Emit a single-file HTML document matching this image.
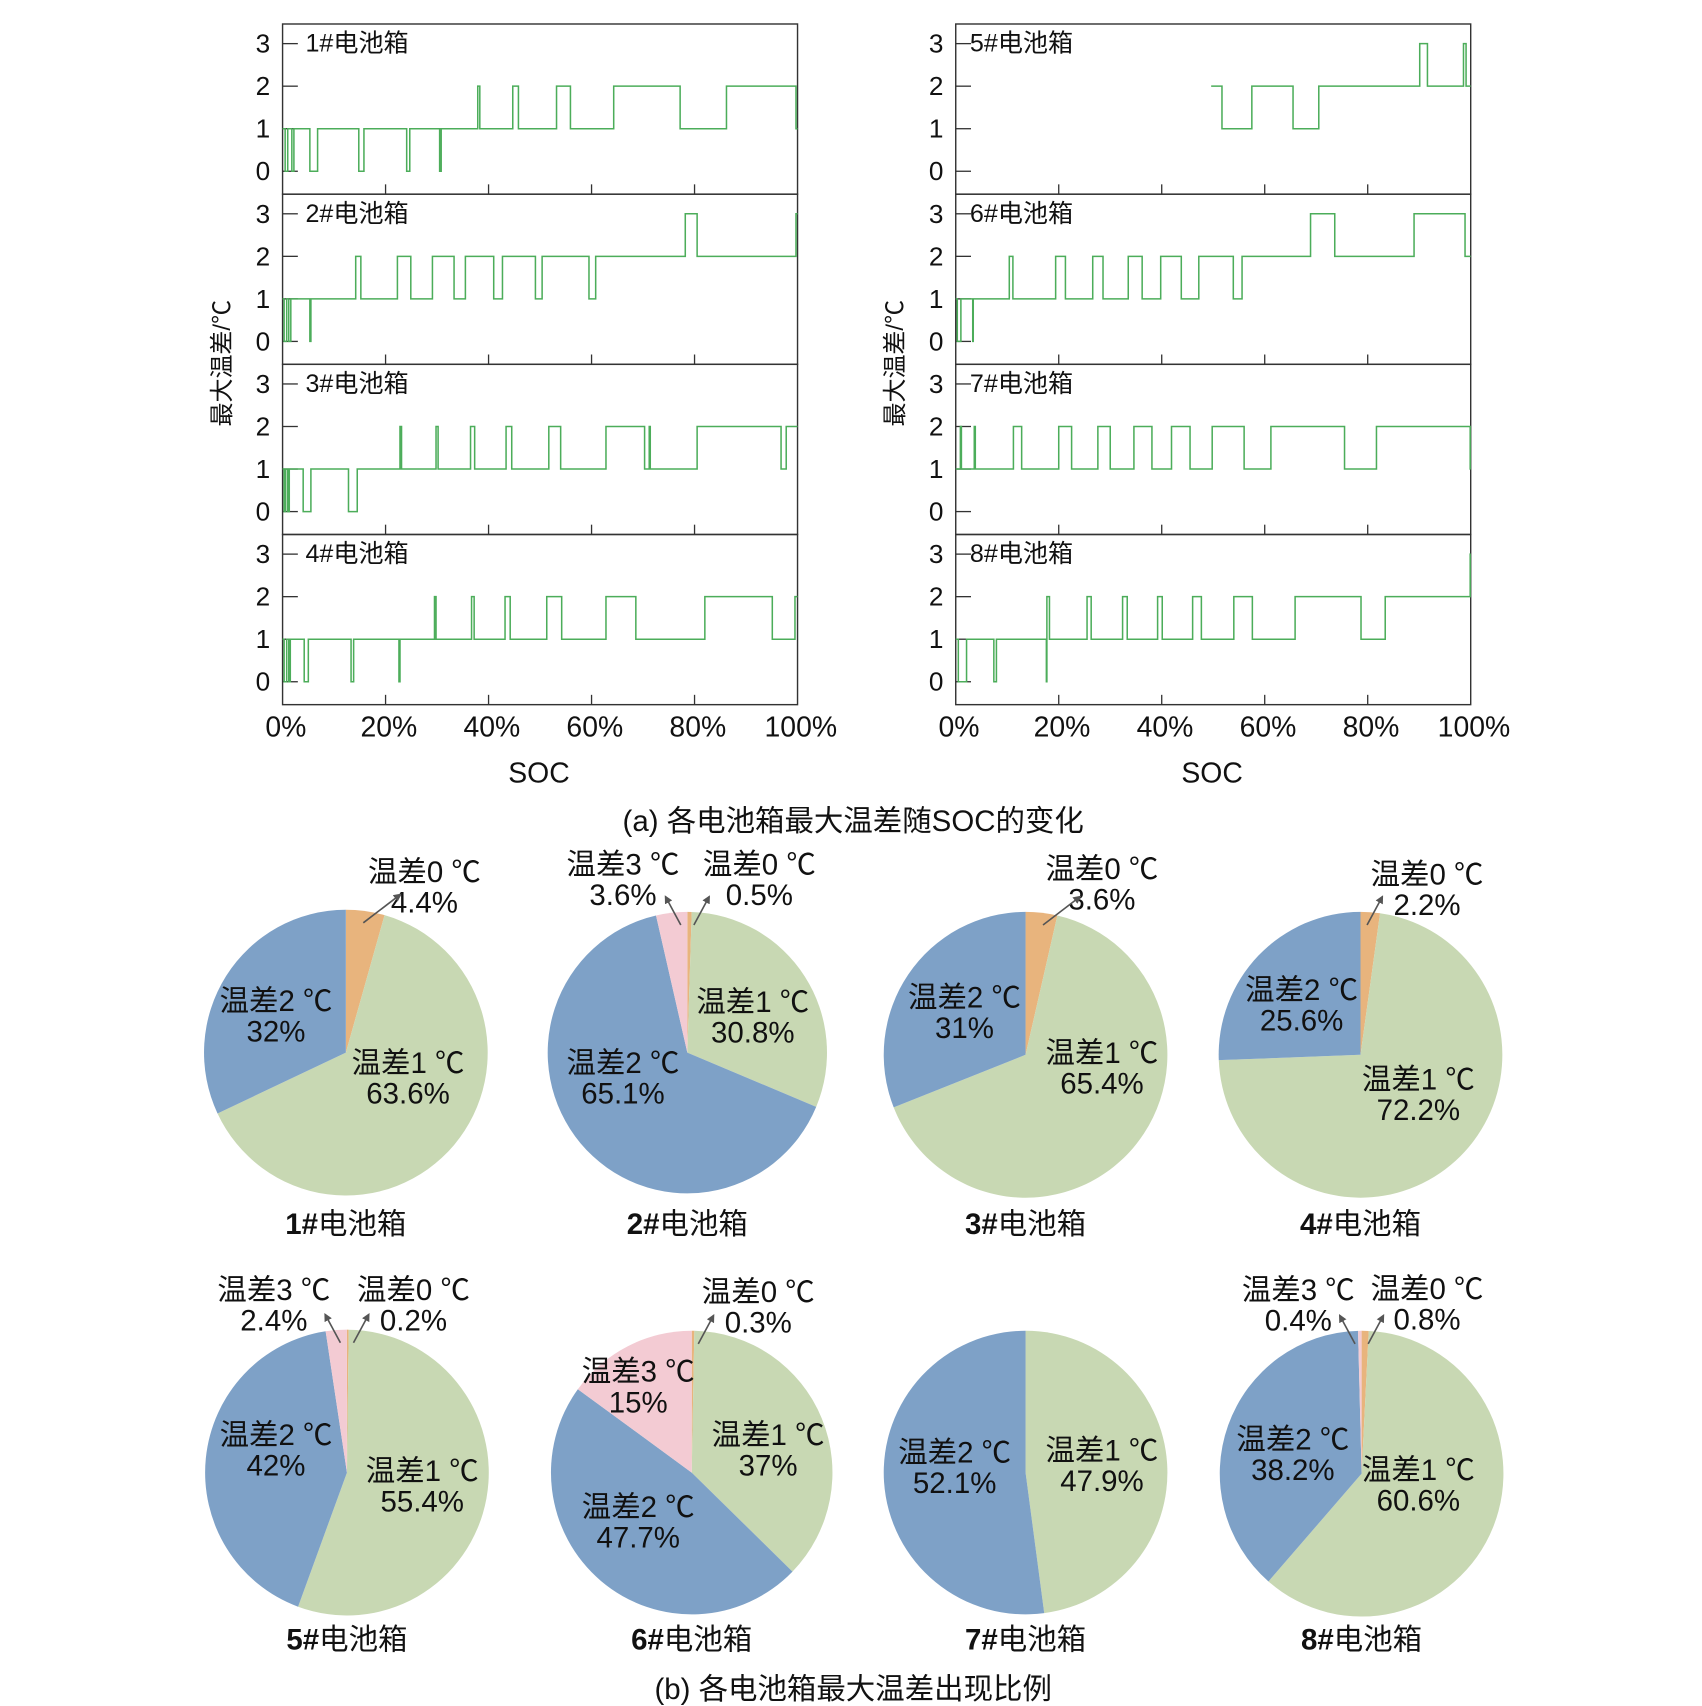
<!DOCTYPE html>
<html><head><meta charset="utf-8">
<style>
html,body{margin:0;padding:0;background:#fff;}
svg{display:block;}
text{font-family:"Liberation Sans","Noto Sans CJK SC",sans-serif;fill:#111;}
</style></head>
<body>
<svg id="fig" width="1702" height="1706" viewBox="0 0 1560 1564" preserveAspectRatio="none" xmlns="http://www.w3.org/2000/svg">
<defs><marker id="arr" viewBox="0 0 10 10" refX="8" refY="5" markerWidth="5" markerHeight="5" orient="auto"><path d="M0 0 L10 5 L0 10 Z" fill="#555"/></marker></defs>
<g id="lines"></g>
<g id="pies"></g>
<text x="782" y="753" font-size="27" text-anchor="middle" dominant-baseline="central">(a) 各电池箱最大温差随SOC的变化</text>
<text x="782" y="1549" font-size="27" text-anchor="middle" dominant-baseline="central">(b) 各电池箱最大温差出现比例</text>
</svg>
<script>
// ---- step chart data (SOC % breakpoints, value from that point onward) ----
const box1Soc = [0,0.5,1,1.8,2.2,5.3,6.8,14.8,15.8,24.1,24.7,30.5,30.8,37.9,38.3,44.7,45.8,53.2,55.9,64.3,77.2,86.2,99.7];
const box1Val = [1,0,1,0,1,0,1,0,1,0,1,0,1,2,1,2,1,2,1,2,1,2,1];
const box2Soc = [0,0.3,0.8,1.2,1.6,5.3,5.5,14.2,15.2,22.3,24.9,29.1,33.3,35.5,41,42.7,49.1,50.4,59.5,60.8,78.2,80.5,99.7];
const box2Val = [1,0,1,0,1,0,1,2,1,2,1,2,1,2,1,2,1,2,1,2,3,2,3];
const box3Soc = [0,0.3,0.6,1,1.3,4,5.5,12.8,14.5,22.8,23.1,29.8,30.2,36.5,37.3,43.4,44.5,51.7,54,62.8,70.3,71.2,71.4,80.5,96.8,97.8];
const box3Val = [1,0,1,0,1,0,1,0,1,2,1,2,1,2,1,2,1,2,1,2,1,2,1,2,1,2];
const box4Soc = [0,0.3,0.8,1.2,1.5,4.2,5,13.3,13.8,22.6,22.8,29.5,29.8,36.7,37.2,43.2,44.2,51.3,54.2,62.8,68.6,82,95.1,99.5];
const box4Val = [1,0,1,0,1,0,1,0,1,0,1,2,1,2,1,2,1,2,1,2,1,2,1,2];
const box5Soc = [49.6,51.7,57.5,65.5,70.5,90.1,91.6,98.6,99.1];
const box5Val = [2,1,2,1,2,3,2,3,2];
const box6Soc = [0,0.3,1,3.3,3.4,10.4,11.1,19.4,21.3,26.6,28.6,33.5,36.2,39.8,43.8,47.2,53.9,55.6,68.9,73.6,89,98.9];
const box6Val = [1,0,1,0,1,2,1,2,1,2,1,2,1,2,1,2,1,2,3,2,3,2];
const box7Soc = [0,0.9,1.1,3.6,3.8,11.2,12.8,20,22.5,27.6,30,34.6,38.1,41.9,45.5,49.8,56,61.2,75.5,81.7,99.9];
const box7Val = [1,2,1,2,1,2,1,2,1,2,1,2,1,2,1,2,1,2,1,2,1];
const box8Soc = [0,0.5,2.1,7.4,7.9,17.6,17.7,18.2,25.5,26.3,32.4,33.3,39.2,40.1,46,47.7,54,57.6,65.9,78.7,83.4,99.9];
const box8Val = [1,0,1,0,1,0,2,1,2,1,2,1,2,1,2,1,2,1,2,1,2,3];
const boxNames = ["1#电池箱","2#电池箱","3#电池箱","4#电池箱","5#电池箱","6#电池箱","7#电池箱","8#电池箱"];
const xTickLabels = ["0%","20%","40%","60%","80%","100%"];
const yTickLabels = ["0","1","2","3"];

// ---- pie data (percent, order: 0℃,1℃,2℃,3℃ clockwise from top) ----
const pie1 = [4.4,63.6,32,0];
const pie2 = [0.5,30.8,65.1,3.6];
const pie3 = [3.6,65.4,31,0];
const pie4 = [2.2,72.2,25.6,0];
const pie5 = [0.2,55.4,42,2.4];
const pie6 = [0.3,37,47.7,15];
const pie7 = [0,47.9,52.1,0];
const pie8 = [0.8,60.6,38.2,0.4];

const NS="http://www.w3.org/2000/svg";
function mk(tag,attrs,parent){const e=document.createElementNS(NS,tag);for(const k in attrs)e.setAttribute(k,attrs[k]);parent.appendChild(e);return e;}

const linesG=document.getElementById('lines');
const socs=[box1Soc,box2Soc,box3Soc,box4Soc,box5Soc,box6Soc,box7Soc,box8Soc];
const vals=[box1Val,box2Val,box3Val,box4Val,box5Val,box6Val,box7Val,box8Val];
const colL=[259,876], W=472, H=156, TOP=22;
for(let c=0;c<2;c++){
  const L=colL[c];
  const xs=s=>L+s/100*W;
  for(let r=0;r<4;r++){
    const k=c*4+r, top=TOP+r*H;
    const ys=v=>top+135-v*39;
    const g=mk('g',{},linesG);
    
    
    const fr=mk('rect',{x:L,y:top,width:W,height:H,fill:'none',stroke:'#333','stroke-width':1.3},g);
    
    
    yTickLabels.forEach((t,i)=>{
      const v=+t;
      const tk=mk('line',{x1:L,x2:L+14,y1:ys(v),y2:ys(v),stroke:'#333','stroke-width':1.2},g);
      
      
      const tl=mk('text',{x:L-18,y:ys(v),'font-size':24,'text-anchor':'middle','dominant-baseline':'central'},g);
      tl.textContent=t;
      
      
    });
    xTickLabels.forEach((t,i)=>{
      if(i===0||i===5)return;
      const tk=mk('line',{x1:xs(i*20),x2:xs(i*20),y1:top+H,y2:top+H-9,stroke:'#333','stroke-width':1.2},g);
      
      
    });
    const nm=mk('text',{x:L+(c?13:21),y:top+18,'font-size':23,'dominant-baseline':'central'},g);
    nm.textContent=boxNames[k];
    
    
    const S=socs[k],V=vals[k];
    let d='M'+xs(S[0])+' '+ys(V[0]);
    for(let i=1;i<S.length;i++){d+=' H'+xs(S[i])+' V'+ys(V[i]);}
    d+=' H'+xs(100);
    const p=mk('path',{d:d,fill:'none',stroke:'#4cad5a','stroke-width':1.4},g);
    
    
  }
  xTickLabels.forEach((t,i)=>{
    const tl=mk('text',{x:L+3+i*W/5,y:667,'font-size':26,'text-anchor':'middle','dominant-baseline':'central'},linesG);
    tl.textContent=t;
    
    
  });
  const xt=mk('text',{x:L+235,y:709,'font-size':26,'text-anchor':'middle','dominant-baseline':'central'},linesG);
  xt.textContent='SOC';
  
  
  const yt=mk('text',{x:0,y:0,'font-size':22,'text-anchor':'middle','dominant-baseline':'central','font-family':'"Liberation Serif","Noto Serif CJK SC",serif',transform:'translate('+(L-55)+',333) rotate(-90)'},linesG);
  yt.textContent='最大温差/℃';
  
  
}

// ---- pies ----
const piesG=document.getElementById('pies');
const pies=[pie1,pie2,pie3,pie4,pie5,pie6,pie7,pie8];
const cols=['#e8b47d','#c8d8b3','#7ea1c7','#f3cbd3'];
const geo=[[317,965,130,131],[630,965,128,129],[940,967,130,131],[1247,967,130,131],[318,1350,130,131],[634,1350,129,130],[940,1350,130,130],[1248,1351,130,131]];
const catNames=['温差0 ℃','温差1 ℃','温差2 ℃','温差3 ℃'];
const labs=[
 [[0,389,800],[2,253,918],[1,374,975]],
 [[3,571,793],[0,696,793],[1,690,919],[2,571,975]],
 [[0,1010,797],[2,884,915],[1,1010,966]],
 [[0,1308,802],[2,1193,908],[1,1300,990]],
 [[3,251,1183],[0,379,1183],[2,253,1316],[1,387,1349]],
 [[0,695,1185],[3,585,1258],[1,704,1316],[2,585,1382]],
 [[2,875,1332],[1,1010,1330]],
 [[3,1190,1183],[0,1308,1182],[2,1185,1320],[1,1300,1348]]
];
pies.forEach((data,k)=>{
  const [cx,cy,rx,ry]=geo[k];
  const g=mk('g',{},piesG);
  
  
  let a=0;
  data.forEach((v,i)=>{
    if(v<=0)return;
    const a0=a/100*2*Math.PI, a1=(a+v)/100*2*Math.PI; a+=v;
    const x0=cx+rx*Math.sin(a0),y0=cy-ry*Math.cos(a0),x1=cx+rx*Math.sin(a1),y1=cy-ry*Math.cos(a1);
    const large=(a1-a0)>Math.PI?1:0;
    const p=mk('path',{d:`M${cx} ${cy} L${x0} ${y0} A${rx} ${ry} 0 ${large} 1 ${x1} ${y1} Z`,fill:cols[i]},g);
    
    
  });
  labs[k].forEach(([cat,x,y])=>{
    const t1=mk('text',{x:x,y:y,'font-size':27,'text-anchor':'middle','dominant-baseline':'central','fill':'#000'},g);
    t1.textContent=catNames[cat];
    
    
    const t2=mk('text',{x:x,y:y+28,'font-size':27,'text-anchor':'middle','dominant-baseline':'central','fill':'#000'},g);
    t2.textContent=data[cat]+'%';
    
    
    if(y<cy-140){
      const dir=x<cx?-1:1;
      const ln=mk('line',{x1:cx+dir*6+ (k===0||k===2?10:0),y1:cy-ry+12,x2:cx+dir*20+(k===0||k===2?30:0),y2:cy-ry-14,stroke:'#555','stroke-width':1.5,'marker-end':'url(#arr)'},g);
      
      
    }
  });
  const tt=mk('text',{x:cx,y:k<4?1122:1503,'font-size':27,'text-anchor':'middle','dominant-baseline':'central'},g);
  const num=boxNames[k].slice(0,2), rest=boxNames[k].slice(2);
  const ts1=mk('tspan',{'font-weight':'bold'},tt); ts1.textContent=num;
  const ts2=mk('tspan',{},tt); ts2.textContent=rest;
  
  
});
</script>
</body></html>
